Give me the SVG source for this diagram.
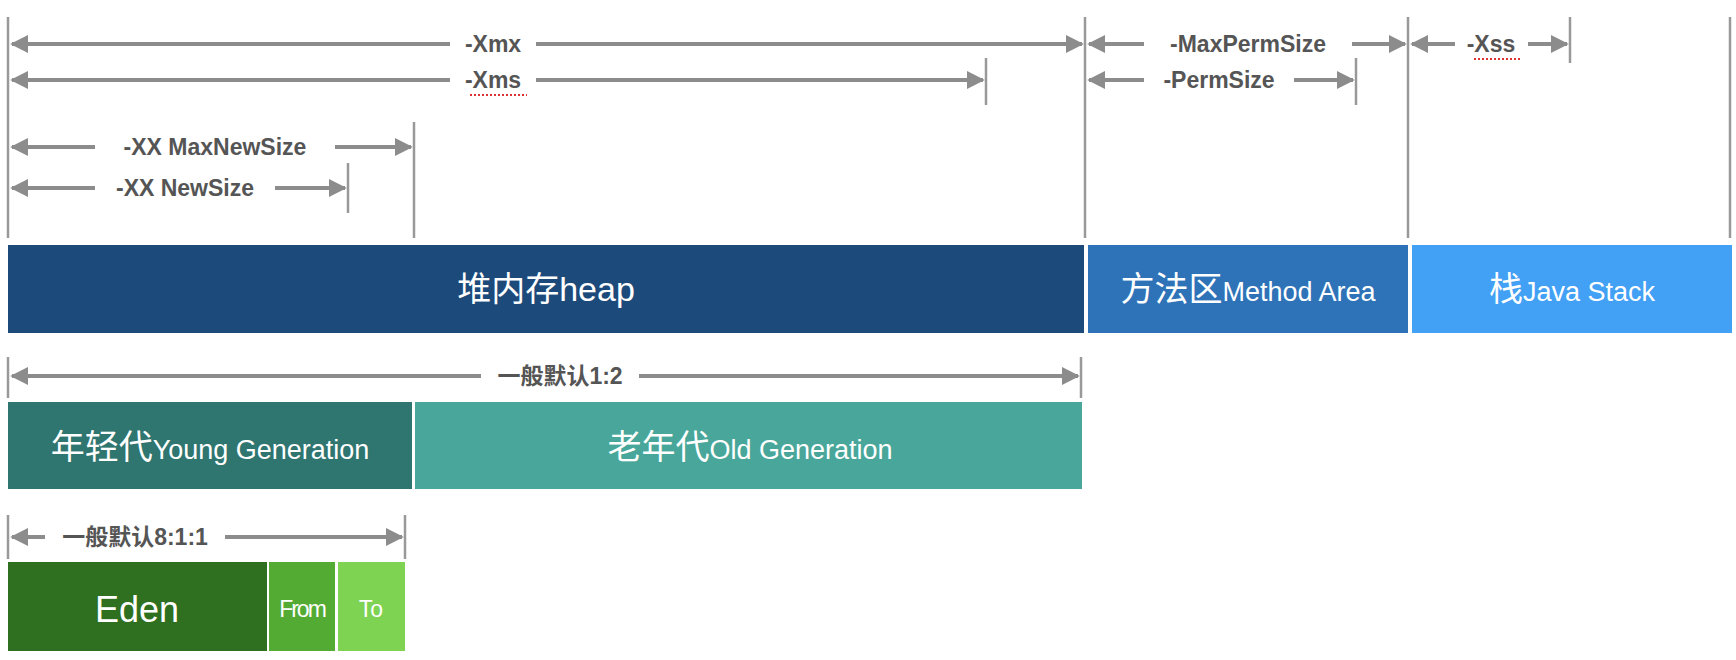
<svg xmlns="http://www.w3.org/2000/svg" width="1736" height="660" viewBox="0 0 1736 660">
<style>
.v{stroke:#999;stroke-width:2.5}
.a{stroke:#8c8c8c;stroke-width:4;fill:none;marker-start:url(#h);marker-end:url(#h)}
.l{font-family:"Liberation Sans","Noto Sans CJK SC",sans-serif;font-weight:bold;font-size:23px;fill:#555;text-anchor:middle}
.t{font-family:"Liberation Sans","Noto Sans CJK SC",sans-serif;fill:#fff;text-anchor:middle}
.sp{stroke:#d33;stroke-width:2;stroke-dasharray:2 2}
</style>
<defs>
<marker id="h" viewBox="0 0 10 10" refX="9" refY="5" markerWidth="4.5" markerHeight="4.5" orient="auto-start-reverse">
<path d="M0,0 L10,5 L0,10 z" fill="#8c8c8c"/>
</marker>
</defs>
<g id="connectors">
<line class="v" x1="8" y1="17" x2="8" y2="238"/>
<line class="v" x1="1085" y1="17" x2="1085" y2="238"/>
<line class="v" x1="1408" y1="17" x2="1408" y2="238"/>
<line class="v" x1="1730" y1="17" x2="1730" y2="238"/>
<line class="v" x1="414" y1="122" x2="414" y2="238"/>
<line class="v" x1="986" y1="58" x2="986" y2="105"/>
<line class="v" x1="348" y1="163" x2="348" y2="213"/>
<line class="v" x1="1356" y1="58" x2="1356" y2="105"/>
<line class="v" x1="1570" y1="17" x2="1570" y2="63"/>
<line class="v" x1="8" y1="357" x2="8" y2="398"/>
<line class="v" x1="1081" y1="357" x2="1081" y2="398"/>
<line class="v" x1="8" y1="515" x2="8" y2="559"/>
<line class="v" x1="405" y1="515" x2="405" y2="559"/>
<path class="a" d="M12,44 H1082"/>
<path class="a" d="M12,80 H983"/>
<path class="a" d="M12,147 H411"/>
<path class="a" d="M12,188 H345"/>
<path class="a" d="M1089,44 H1405"/>
<path class="a" d="M1089,80 H1353"/>
<path class="a" d="M1412,44 H1567"/>
<path class="a" d="M12,376 H1078"/>
<path class="a" d="M12,537 H402"/>
<rect x="450" y="28" width="86" height="32" fill="#fff"/>
<rect x="450" y="64" width="86" height="32" fill="#fff"/>
<rect x="95" y="131" width="240" height="32" fill="#fff"/>
<rect x="95" y="172" width="180" height="32" fill="#fff"/>
<rect x="1144" y="28" width="208" height="32" fill="#fff"/>
<rect x="1144" y="64" width="150" height="32" fill="#fff"/>
<rect x="1455" y="28" width="73" height="32" fill="#fff"/>
<rect x="481" y="360" width="158" height="32" fill="#fff"/>
<rect x="45" y="521" width="180" height="32" fill="#fff"/>
</g>
<g id="labels">
<text class="l" x="493" y="52">-Xmx</text>
<text class="l" x="493" y="88">-Xms</text>
<line class="sp" x1="470" y1="95" x2="527" y2="95"/>
<text class="l" x="215" y="155">-XX MaxNewSize</text>
<text class="l" x="185" y="196">-XX NewSize</text>
<text class="l" x="1248" y="52">-MaxPermSize</text>
<text class="l" x="1219" y="88">-PermSize</text>
<text class="l" x="1491" y="52">-Xss</text>
<line class="sp" x1="1474" y1="59" x2="1521" y2="59"/>
<text class="l" x="560" y="384">一般默认1:2</text>
<text class="l" x="135" y="545">一般默认8:1:1</text>
</g>
<g id="heap"><rect x="8" y="245" width="1076" height="88" fill="#1c4a7a"/><text class="t" x="546" y="301" font-size="34">堆内存heap</text></g>
<g id="method"><rect x="1088" y="245" width="320" height="88" fill="#2e72b8"/><text class="t" x="1248" y="301"><tspan font-size="34">方法区</tspan><tspan font-size="27">Method Area</tspan></text></g>
<g id="stack"><rect x="1412" y="245" width="320" height="88" fill="#42a0f5"/><text class="t" x="1572" y="301"><tspan font-size="34">栈</tspan><tspan font-size="27">Java Stack</tspan></text></g>
<g id="young"><rect x="8" y="402" width="404" height="87" fill="#2f7570"/><text class="t" x="210" y="459"><tspan font-size="34">年轻代</tspan><tspan font-size="27">Young Generation</tspan></text></g>
<g id="old"><rect x="415" y="402" width="667" height="87" fill="#48a79a"/><text class="t" x="750" y="459"><tspan font-size="34">老年代</tspan><tspan font-size="27">Old Generation</tspan></text></g>
<g id="eden"><rect x="8" y="562" width="259" height="89" fill="#2e6f20"/><text class="t" x="137" y="622" font-size="36">Eden</text></g>
<g id="from"><rect x="269" y="562" width="66" height="89" fill="#53ab34"/><text class="t" x="302" y="617" font-size="23" letter-spacing="-2">From</text></g>
<g id="to"><rect x="338" y="562" width="67" height="89" fill="#7ed352"/><text class="t" x="371" y="617" font-size="23">To</text></g>
</svg>
